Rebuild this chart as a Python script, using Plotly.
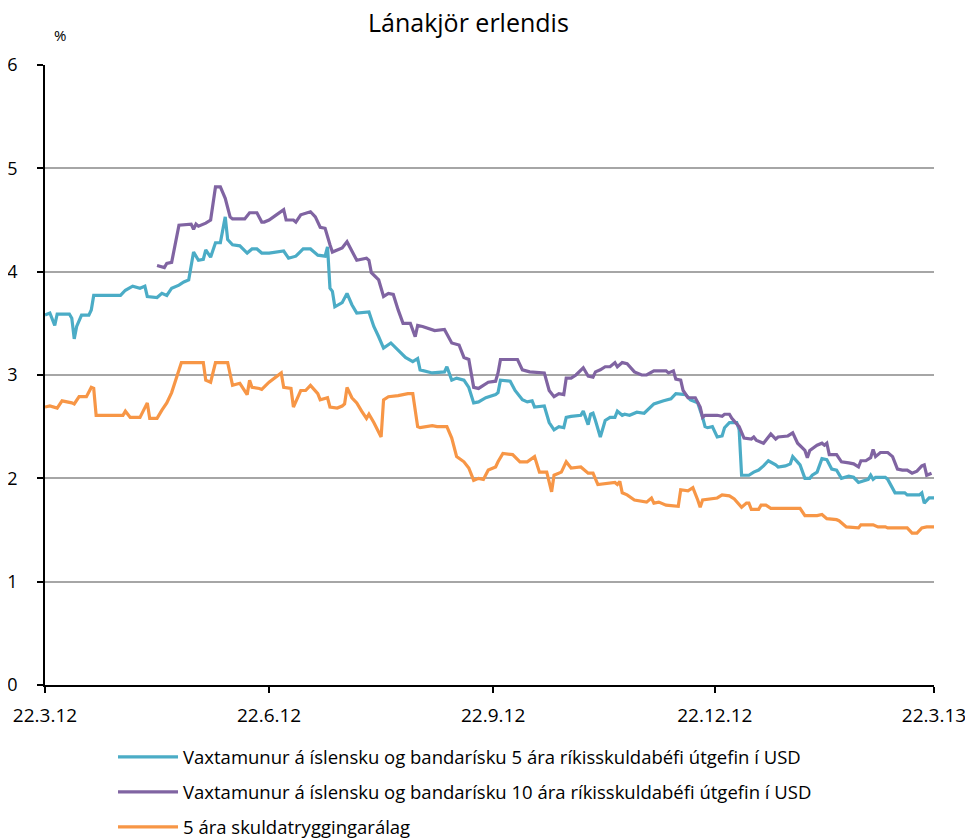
import plotly.graph_objects as go

title = "Lánakjör erlendis"
series_names = [
    "Vaxtamunur á íslensku og bandarísku 5 ára ríkisskuldabéfi útgefin í USD",
    "Vaxtamunur á íslensku og bandarísku 10 ára ríkisskuldabéfi útgefin í USD",
    "5 ára skuldatryggingarálag",
]
tick_dates = ["2012-03-22", "2012-06-22", "2012-09-22", "2012-12-22", "2013-03-22"]
tick_labels = ["22.3.12", "22.6.12", "22.9.12", "22.12.12", "22.3.13"]

# 5-year spread
d5 = ["2012-03-22","2012-03-24","2012-03-26","2012-03-27","2012-04-01","2012-04-02","2012-04-03","2012-04-04",
      "2012-04-06","2012-04-09","2012-04-10","2012-04-11","2012-04-22","2012-04-24","2012-04-27","2012-04-30",
      "2012-05-02","2012-05-03","2012-05-07","2012-05-09","2012-05-11","2012-05-13","2012-05-16","2012-05-18",
      "2012-05-20","2012-05-22","2012-05-24","2012-05-26","2012-05-27","2012-05-29","2012-05-31","2012-06-02",
      "2012-06-04","2012-06-05","2012-06-07","2012-06-10","2012-06-13","2012-06-15","2012-06-17","2012-06-19",
      "2012-06-22","2012-06-28","2012-06-30","2012-07-03","2012-07-06","2012-07-09","2012-07-12","2012-07-15",
      "2012-07-16","2012-07-17","2012-07-18","2012-07-19","2012-07-22","2012-07-24","2012-07-26","2012-07-28",
      "2012-08-02","2012-08-04","2012-08-06","2012-08-08","2012-08-11","2012-08-15","2012-08-17","2012-08-20",
      "2012-08-22","2012-08-23","2012-08-28","2012-09-02","2012-09-03","2012-09-05","2012-09-07","2012-09-10",
      "2012-09-12","2012-09-14","2012-09-16","2012-09-19","2012-09-23","2012-09-24","2012-09-25","2012-09-29",
      "2012-10-01","2012-10-04","2012-10-06","2012-10-08","2012-10-09","2012-10-13","2012-10-15","2012-10-17",
      "2012-10-19","2012-10-21","2012-10-22","2012-10-24","2012-10-28","2012-10-29","2012-10-31","2012-11-01",
      "2012-11-02","2012-11-03","2012-11-05","2012-11-07","2012-11-09","2012-11-11","2012-11-12","2012-11-14",
      "2012-11-15","2012-11-17","2012-11-20","2012-11-23","2012-11-27","2012-12-01","2012-12-04","2012-12-06",
      "2012-12-10","2012-12-12","2012-12-15","2012-12-17","2012-12-18","2012-12-19","2012-12-21","2012-12-23",
      "2012-12-25","2012-12-26","2012-12-28","2012-12-31","2013-01-01","2013-01-02","2013-01-05","2013-01-07",
      "2013-01-09","2013-01-11","2013-01-13","2013-01-16","2013-01-17","2013-01-20","2013-01-22","2013-01-23",
      "2013-01-25","2013-01-26","2013-01-28","2013-01-30","2013-01-31","2013-02-02","2013-02-04","2013-02-06",
      "2013-02-08","2013-02-10","2013-02-12","2013-02-15","2013-02-17","2013-02-19","2013-02-23","2013-02-24",
      "2013-02-25","2013-02-26","2013-03-02","2013-03-03","2013-03-06","2013-03-10","2013-03-11","2013-03-16",
      "2013-03-17","2013-03-18","2013-03-20","2013-03-22"]
v5 = [3.58,3.60,3.48,3.59,3.59,3.55,3.35,3.47,
      3.58,3.58,3.63,3.77,3.77,3.82,3.86,3.84,
      3.86,3.76,3.75,3.79,3.77,3.84,3.87,3.90,
      3.92,4.19,4.11,4.12,4.21,4.14,4.28,4.28,
      4.53,4.31,4.26,4.25,4.18,4.22,4.22,4.18,
      4.18,4.20,4.13,4.15,4.22,4.22,4.16,4.15,
      4.24,3.84,3.81,3.66,3.70,3.79,3.68,3.60,
      3.61,3.47,3.37,3.26,3.31,3.22,3.17,3.13,
      3.16,3.05,3.02,3.03,3.08,2.95,2.97,2.95,
      2.88,2.73,2.74,2.78,2.81,2.83,2.95,2.94,
      2.85,2.76,2.74,2.75,2.69,2.70,2.54,2.47,
      2.50,2.49,2.59,2.60,2.61,2.65,2.52,2.62,
      2.63,2.56,2.40,2.56,2.59,2.59,2.65,2.61,
      2.62,2.61,2.64,2.63,2.72,2.75,2.77,2.82,
      2.81,2.76,2.73,2.59,2.50,2.49,2.50,2.40,
      2.41,2.49,2.54,2.54,2.47,2.03,2.03,2.06,
      2.08,2.12,2.17,2.13,2.11,2.12,2.14,2.21,
      2.15,2.13,2.00,2.00,2.03,2.06,2.19,2.18,
      2.09,2.08,2.00,2.02,2.01,1.96,1.99,2.03,
      1.99,2.01,2.01,1.99,1.86,1.86,1.84,1.84,
      1.86,1.76,1.81,1.81]

# 10-year spread
d10 = ["2012-05-07","2012-05-10","2012-05-11","2012-05-13","2012-05-16","2012-05-21","2012-05-22","2012-05-23",
       "2012-05-24","2012-05-27","2012-05-29","2012-05-31","2012-06-02","2012-06-04","2012-06-06","2012-06-07",
       "2012-06-12","2012-06-14","2012-06-17","2012-06-19","2012-06-20","2012-06-22","2012-06-25","2012-06-28",
       "2012-06-29","2012-07-02","2012-07-03","2012-07-05","2012-07-09","2012-07-11","2012-07-13","2012-07-15",
       "2012-07-17","2012-07-18","2012-07-22","2012-07-24","2012-07-28","2012-08-01","2012-08-02","2012-08-03",
       "2012-08-06","2012-08-08","2012-08-10","2012-08-12","2012-08-14","2012-08-16","2012-08-19","2012-08-21",
       "2012-08-22","2012-08-24","2012-08-29","2012-09-02","2012-09-05","2012-09-08","2012-09-10","2012-09-12",
       "2012-09-14","2012-09-16","2012-09-20","2012-09-23","2012-09-24","2012-09-25","2012-10-02","2012-10-04",
       "2012-10-07","2012-10-13","2012-10-15","2012-10-17","2012-10-19","2012-10-21","2012-10-22","2012-10-24",
       "2012-10-26","2012-10-29","2012-10-31","2012-11-02","2012-11-03","2012-11-05","2012-11-07","2012-11-09",
       "2012-11-11","2012-11-12","2012-11-14","2012-11-16","2012-11-19","2012-11-22","2012-11-24","2012-11-27",
       "2012-12-02","2012-12-03","2012-12-05","2012-12-06","2012-12-08","2012-12-09","2012-12-11","2012-12-14",
       "2012-12-16","2012-12-17","2012-12-18","2012-12-23","2012-12-25","2012-12-26","2012-12-28","2012-12-29",
       "2013-01-01","2013-01-03","2013-01-06","2013-01-07","2013-01-08","2013-01-11","2013-01-14","2013-01-16",
       "2013-01-17","2013-01-21","2013-01-23","2013-01-25","2013-01-28","2013-01-29","2013-01-30","2013-02-02",
       "2013-02-04","2013-02-05","2013-02-06","2013-02-07","2013-02-10","2013-02-12","2013-02-15","2013-02-17",
       "2013-02-19","2013-02-20","2013-02-22","2013-02-24","2013-02-25","2013-02-26","2013-02-28","2013-03-03",
       "2013-03-05","2013-03-07","2013-03-09","2013-03-11","2013-03-13","2013-03-15","2013-03-17","2013-03-18",
       "2013-03-19","2013-03-21"]
v10 = [4.06,4.04,4.08,4.09,4.45,4.46,4.41,4.46,
       4.44,4.47,4.50,4.82,4.82,4.71,4.53,4.51,
       4.51,4.57,4.57,4.48,4.48,4.50,4.55,4.60,
       4.50,4.50,4.48,4.55,4.58,4.53,4.43,4.42,
       4.26,4.19,4.23,4.29,4.11,4.13,4.11,3.99,
       3.92,3.76,3.79,3.78,3.63,3.50,3.50,3.37,
       3.48,3.47,3.43,3.44,3.31,3.29,3.17,3.15,
       2.88,2.87,2.93,2.94,3.02,3.15,3.15,3.05,
       3.03,3.02,2.85,2.79,2.82,2.81,2.97,2.97,
       3.00,3.07,2.99,2.98,3.03,3.05,3.08,3.08,
       3.12,3.08,3.12,3.11,3.03,3.00,3.00,3.04,
       3.04,3.02,3.04,2.96,2.95,2.85,2.78,2.78,
       2.69,2.59,2.61,2.61,2.60,2.62,2.62,2.58,
       2.50,2.39,2.38,2.40,2.37,2.34,2.43,2.38,
       2.40,2.41,2.44,2.34,2.27,2.20,2.27,2.32,
       2.34,2.32,2.34,2.23,2.23,2.16,2.15,2.14,
       2.11,2.17,2.17,2.20,2.28,2.21,2.25,2.25,
       2.21,2.09,2.08,2.08,2.05,2.07,2.12,2.13,
       2.03,2.05]

# 5-year CDS
dc = ["2012-03-22","2012-03-24","2012-03-27","2012-03-29","2012-04-02","2012-04-03","2012-04-05","2012-04-08",
      "2012-04-10","2012-04-11","2012-04-12","2012-04-23","2012-04-24","2012-04-26","2012-04-30","2012-05-03",
      "2012-05-04","2012-05-07","2012-05-09","2012-05-11","2012-05-13","2012-05-17","2012-05-26","2012-05-27",
      "2012-05-29","2012-05-31","2012-06-05","2012-06-07","2012-06-10","2012-06-13","2012-06-14","2012-06-15",
      "2012-06-18","2012-06-19","2012-06-22","2012-06-25","2012-06-27","2012-06-28","2012-07-01","2012-07-02",
      "2012-07-05","2012-07-07","2012-07-09","2012-07-12","2012-07-13","2012-07-16","2012-07-17","2012-07-20",
      "2012-07-22","2012-07-23","2012-07-24","2012-07-26","2012-07-28","2012-07-30","2012-08-01","2012-08-02",
      "2012-08-04","2012-08-07","2012-08-08","2012-08-10","2012-08-14","2012-08-18","2012-08-20","2012-08-22",
      "2012-08-23","2012-08-28","2012-08-30","2012-09-03","2012-09-05","2012-09-07","2012-09-10","2012-09-12",
      "2012-09-14","2012-09-16","2012-09-18","2012-09-20","2012-09-23","2012-09-24","2012-09-26","2012-09-30",
      "2012-10-03","2012-10-06","2012-10-09","2012-10-11","2012-10-14","2012-10-16","2012-10-17","2012-10-20",
      "2012-10-22","2012-10-24","2012-10-28","2012-10-31","2012-11-02","2012-11-04","2012-11-07","2012-11-11",
      "2012-11-12","2012-11-13","2012-11-14","2012-11-16","2012-11-19","2012-11-24","2012-11-26","2012-11-27",
      "2012-11-29","2012-12-02","2012-12-07","2012-12-08","2012-12-11","2012-12-13","2012-12-15","2012-12-16",
      "2012-12-17","2012-12-23","2012-12-25","2012-12-28","2012-12-30","2013-01-02","2013-01-04","2013-01-05",
      "2013-01-06","2013-01-09","2013-01-10","2013-01-12","2013-01-14","2013-01-26","2013-01-28","2013-02-02",
      "2013-02-04","2013-02-06","2013-02-10","2013-02-11","2013-02-14","2013-02-19","2013-02-20","2013-02-25",
      "2013-02-27","2013-03-02","2013-03-03","2013-03-11","2013-03-13","2013-03-15","2013-03-17","2013-03-19",
      "2013-03-22"]
vc = [2.69,2.70,2.68,2.75,2.73,2.72,2.79,2.79,
      2.88,2.87,2.61,2.61,2.65,2.59,2.59,2.73,
      2.58,2.58,2.66,2.73,2.83,3.12,3.12,2.95,
      2.93,3.12,3.12,2.90,2.92,2.81,2.95,2.88,
      2.87,2.86,2.93,2.98,3.02,2.88,2.87,2.69,
      2.85,2.85,2.90,2.82,2.76,2.78,2.69,2.68,
      2.70,2.72,2.88,2.78,2.73,2.65,2.58,2.62,
      2.54,2.40,2.76,2.79,2.80,2.82,2.82,2.50,
      2.49,2.51,2.50,2.50,2.39,2.21,2.16,2.10,
      1.98,2.00,1.99,2.08,2.11,2.16,2.24,2.23,
      2.16,2.16,2.21,2.06,2.06,1.87,2.03,2.06,
      2.16,2.10,2.11,2.05,2.05,1.94,1.95,1.96,
      1.94,1.97,1.86,1.84,1.79,1.77,1.81,1.76,
      1.77,1.74,1.73,1.89,1.88,1.91,1.79,1.72,
      1.79,1.81,1.84,1.83,1.80,1.72,1.76,1.76,
      1.70,1.70,1.74,1.74,1.71,1.71,1.64,1.64,
      1.65,1.61,1.60,1.59,1.53,1.52,1.55,1.55,
      1.53,1.53,1.52,1.52,1.47,1.47,1.52,1.53,
      1.53]

colors = ["#4BACC6", "#8064A2", "#F79646"]
FONT = "Open Sans, sans-serif"

fig = go.Figure()
for i, (xs, ys) in enumerate([(d5, v5), (d10, v10), (dc, vc)]):
    fig.add_trace(go.Scatter(x=xs, y=ys, mode="lines", name=series_names[i],
                             legendgroup=str(i),
                             line=dict(color=colors[i], width=3.2)))

fig.update_layout(
    width=965, height=831,
    margin=dict(l=37, r=39, t=57, b=154, autoexpand=False),
    paper_bgcolor="white", plot_bgcolor="white",
    font=dict(family=FONT, size=18, color="black"),
    showlegend=True,
    legend=dict(orientation="v", x=0.0765, xanchor="left", y=-0.086, yanchor="top",
                font=dict(size=18.5, family=FONT), tracegroupgap=8, itemwidth=60,
                bgcolor="rgba(0,0,0,0)"),
    annotations=[
        dict(text=title, xref="paper", yref="paper", x=0.476, y=1.069,
             xanchor="center", yanchor="middle", showarrow=False,
             font=dict(size=25, family=FONT)),
        dict(text="%", xref="paper", yref="paper", x=0.017, y=1.048,
             xanchor="center", yanchor="middle", showarrow=False,
             font=dict(size=15, family=FONT)),
    ],
)
fig.update_xaxes(
    type="date", range=["2012-03-22", "2013-03-22"],
    tickvals=tick_dates, ticktext=tick_labels,
    showgrid=False, showline=True, linecolor="black", linewidth=1.5,
    ticks="outside", ticklen=6, tickcolor="black", tickwidth=1.5,
    tickfont=dict(size=19), zeroline=False, automargin=False,
    ticklabelstandoff=6,
)
fig.update_yaxes(
    range=[0, 6], tickvals=[0, 1, 2, 3, 4, 5, 6],
    showgrid=True, gridcolor="#A6A6A6", gridwidth=1.5,
    showline=True, linecolor="black", linewidth=1.5,
    ticks="outside", ticklen=6, tickcolor="black", tickwidth=1.5,
    tickfont=dict(size=18), zeroline=False, automargin=False,
    ticklabelstandoff=16,
)
fig.write_html("out.html")
